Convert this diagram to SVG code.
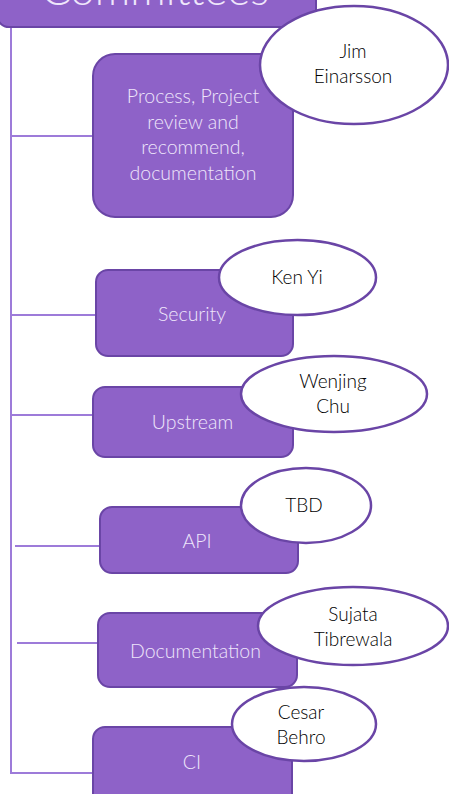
<svg xmlns="http://www.w3.org/2000/svg" width="449" height="794" viewBox="0 0 449 794">
<style>
.box{fill:#8e62c8;stroke:#6a45a6;stroke-width:2}
.ell{fill:#ffffff;stroke:#6a45a6;stroke-width:2.5}
.conn{stroke:#9d7bd9;stroke-width:2;fill:none}
.bt{font-family:Lato,"Open Sans",sans-serif;font-weight:300;font-size:19.5px;fill:#efe6fb;text-anchor:middle}
.et{font-family:Lato,"Open Sans",sans-serif;font-weight:300;font-size:19px;fill:#000000;text-anchor:middle}
</style>
<rect width="449" height="794" fill="#ffffff"/>
<g id="connectors">
<polyline class="conn" points="11,27 11,773 93,773"/>
<line class="conn" x1="11" y1="136" x2="93" y2="136"/>
<line class="conn" x1="11" y1="315" x2="96" y2="315"/>
<line class="conn" x1="11" y1="415" x2="93" y2="415"/>
<line class="conn" x1="15" y1="546" x2="100" y2="546"/>
<line class="conn" x1="17" y1="643" x2="98" y2="643"/>
</g>
<g id="committees">
<rect class="box" x="-3" y="-60" width="319" height="87" rx="12"/>
<text x="155" y="5" font-family="Lato,'Open Sans',sans-serif" font-weight="300" font-size="44" fill="#efe6fb" text-anchor="middle">Committees</text>
</g>
<g id="process">
<rect class="box" x="93" y="54" width="200" height="163" rx="22"/>
<text class="bt" x="193" y="103">Process, Project</text>
<text class="bt" x="193" y="128.5">review and</text>
<text class="bt" x="193" y="154">recommend,</text>
<text class="bt" x="193" y="180">documentation</text>
</g>
<g id="jim">
<ellipse class="ell" cx="354" cy="65" rx="94" ry="59"/>
<text class="et" x="353" y="58">Jim</text>
<text class="et" x="353" y="83">Einarsson</text>
</g>
<g id="security">
<rect class="box" x="96" y="270" width="197" height="86" rx="12"/>
<text class="bt" x="192" y="321">Security</text>
</g>
<g id="kenyi">
<ellipse class="ell" cx="297.5" cy="277.5" rx="78.5" ry="37.5"/>
<text class="et" x="297" y="284">Ken Yi</text>
</g>
<g id="upstream">
<rect class="box" x="93" y="387" width="200" height="70" rx="12"/>
<text class="bt" x="192.5" y="429">Upstream</text>
</g>
<g id="wenjing">
<ellipse class="ell" cx="334" cy="394" rx="93" ry="38"/>
<text class="et" x="333" y="388">Wenjing</text>
<text class="et" x="333" y="413">Chu</text>
</g>
<g id="api">
<rect class="box" x="100" y="507" width="198" height="66" rx="12"/>
<text class="bt" x="197" y="548">API</text>
</g>
<g id="tbd">
<ellipse class="ell" cx="306" cy="505.5" rx="65" ry="37.5"/>
<text class="et" x="304" y="512">TBD</text>
</g>
<g id="documentation">
<rect class="box" x="98" y="613" width="199" height="74" rx="12"/>
<text class="bt" x="195.5" y="658">Documentation</text>
</g>
<g id="sujata">
<ellipse class="ell" cx="353" cy="626" rx="95" ry="39"/>
<text class="et" x="353" y="621">Sujata</text>
<text class="et" x="353" y="646">Tibrewala</text>
</g>
<g id="ci">
<rect class="box" x="93" y="727" width="199" height="90" rx="12"/>
<text class="bt" x="192" y="769">CI</text>
</g>
<g id="cesar">
<ellipse class="ell" cx="304" cy="724" rx="72" ry="37"/>
<text class="et" x="301" y="719">Cesar</text>
<text class="et" x="301" y="744">Behro</text>
</g>
</svg>
